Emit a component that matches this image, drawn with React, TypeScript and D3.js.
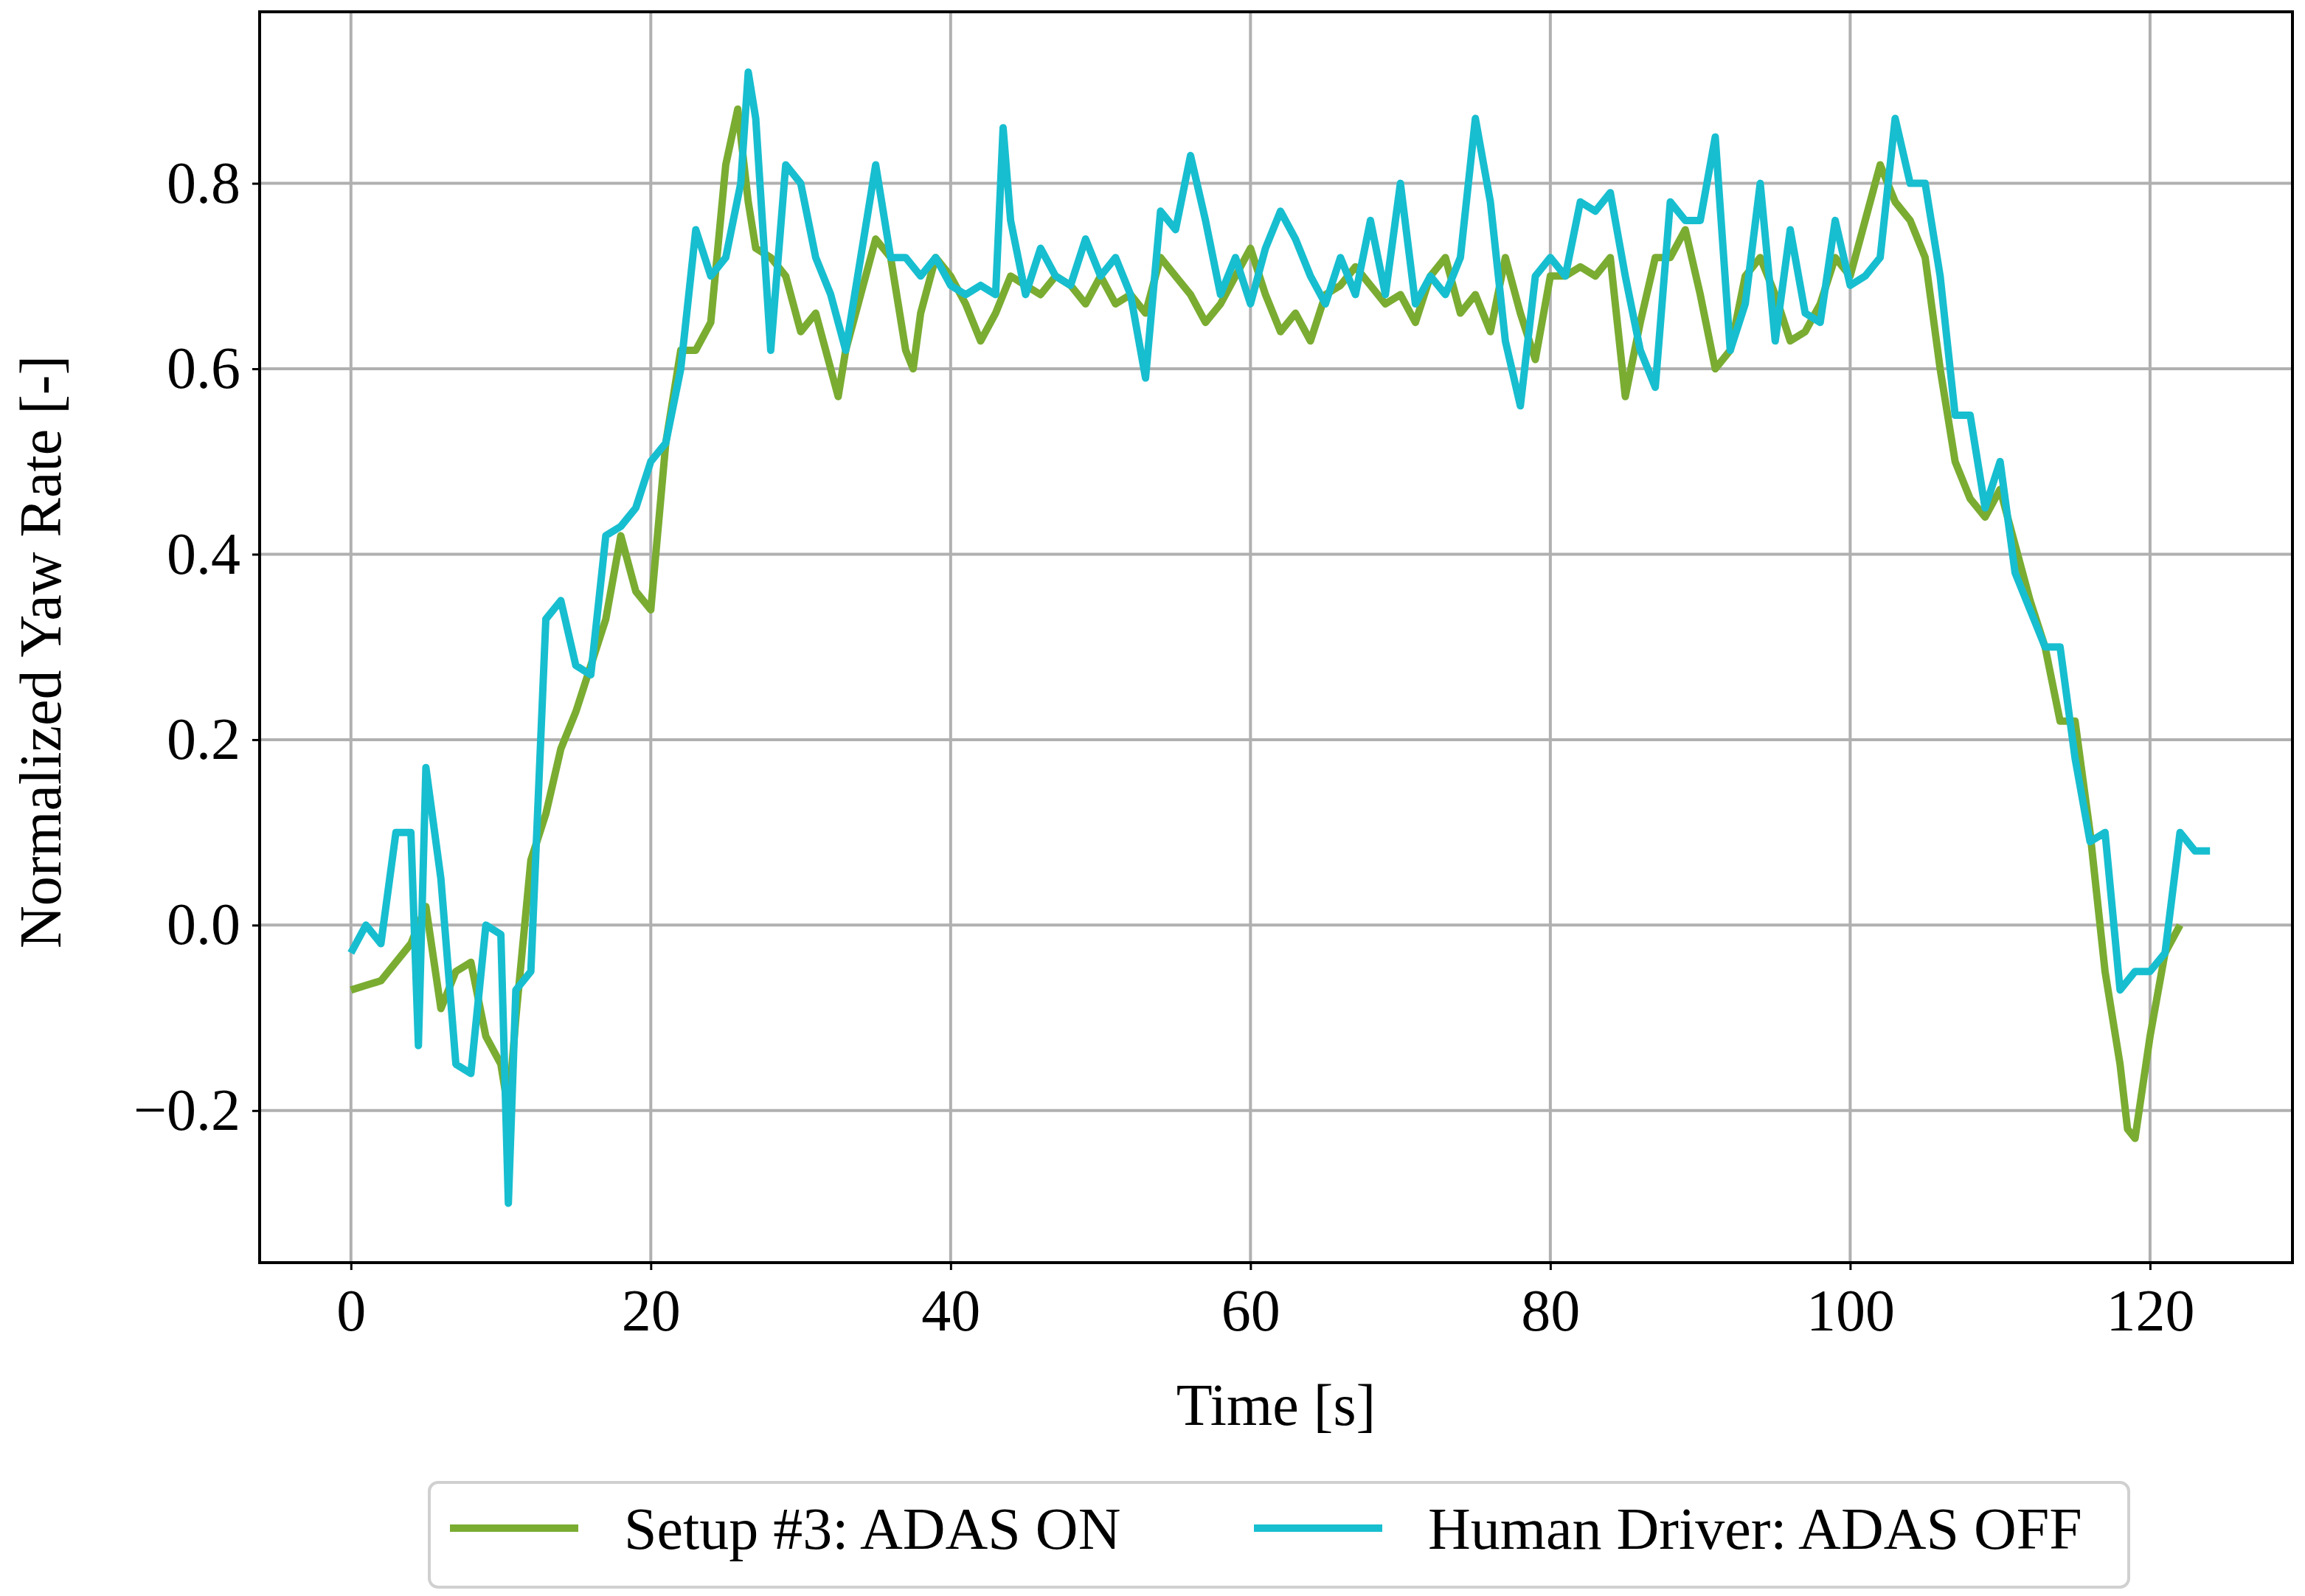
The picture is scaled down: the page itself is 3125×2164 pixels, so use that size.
import React, { useRef, useEffect } from "react";
import * as d3 from "d3";

const adasOnT = [0,1,2,3,4,5,6,7,8,9,10,10.5,11,12,13,14,15,16,17,18,19,20,21,22,23,24,25,25.8,26.5,27,28,29,30,31,32,32.5,33,34,35,36,37,37.5,38,39,40,41,42,43,44,45,46,47,48,49,50,51,52,53,54,55,56,57,58,59,60,61,62,63,64,65,66,67,68,69,70,71,72,73,74,75,76,77,78,79,80,81,82,83,84,85,86,87,88,89,90,91,92,93,94,95,96,97,98,99,100,101,102,103,104,105,106,107,108,109,110,111,112,113,114,115,116,117,118,118.5,119,120,121,122];
const adasOnV = [-0.07,-0.065,-0.06,-0.04,-0.02,0.02,-0.09,-0.05,-0.04,-0.12,-0.15,-0.2,-0.1,0.07,0.12,0.19,0.23,0.28,0.33,0.42,0.36,0.34,0.52,0.62,0.62,0.65,0.82,0.88,0.78,0.73,0.72,0.7,0.64,0.66,0.6,0.57,0.62,0.68,0.74,0.72,0.62,0.6,0.66,0.72,0.7,0.67,0.63,0.66,0.7,0.69,0.68,0.7,0.69,0.67,0.7,0.67,0.68,0.66,0.72,0.7,0.68,0.65,0.67,0.7,0.73,0.68,0.64,0.66,0.63,0.68,0.69,0.71,0.69,0.67,0.68,0.65,0.7,0.72,0.66,0.68,0.64,0.72,0.66,0.61,0.7,0.7,0.71,0.7,0.72,0.57,0.65,0.72,0.72,0.75,0.68,0.6,0.62,0.7,0.72,0.68,0.63,0.64,0.67,0.72,0.7,0.76,0.82,0.78,0.76,0.72,0.6,0.5,0.46,0.44,0.47,0.41,0.35,0.3,0.22,0.22,0.1,-0.05,-0.15,-0.22,-0.23,-0.12,-0.03,0.0];

const humanT = [0,1,2,3,4,4.5,5,6,7,8,9,10,10.5,11,12,13,14,15,16,17,18,19,20,21,22,23,24,25,26,26.5,27,28,29,30,31,32,33,34,35,36,37,38,39,40,41,42,43,43.5,44,45,46,47,48,49,50,51,52,53,54,55,56,57,58,59,60,61,62,63,64,65,66,67,68,69,70,71,72,73,74,75,76,77,78,79,80,81,82,83,84,85,86,87,88,89,90,91,92,93,94,95,96,97,98,99,100,101,102,103,104,105,106,107,108,109,110,111,112,113,114,115,116,117,118,119,120,121,122,123,124];
const humanV = [-0.03,0,-0.02,0.1,0.1,-0.13,0.17,0.05,-0.15,-0.16,0,-0.01,-0.3,-0.07,-0.05,0.33,0.35,0.28,0.27,0.42,0.43,0.45,0.5,0.52,0.6,0.75,0.7,0.72,0.8,0.92,0.87,0.62,0.82,0.8,0.72,0.68,0.62,0.72,0.82,0.72,0.72,0.7,0.72,0.69,0.68,0.69,0.68,0.86,0.76,0.68,0.73,0.7,0.69,0.74,0.7,0.72,0.68,0.59,0.77,0.75,0.83,0.76,0.68,0.72,0.67,0.73,0.77,0.74,0.7,0.67,0.72,0.68,0.76,0.68,0.8,0.67,0.7,0.68,0.72,0.87,0.78,0.63,0.56,0.7,0.72,0.7,0.78,0.77,0.79,0.7,0.62,0.58,0.78,0.76,0.76,0.85,0.62,0.67,0.8,0.63,0.75,0.66,0.65,0.76,0.69,0.7,0.72,0.87,0.8,0.8,0.7,0.55,0.55,0.45,0.5,0.38,0.34,0.3,0.3,0.18,0.09,0.1,-0.07,-0.05,-0.05,-0.03,0.1,0.08,0.08];

const xTicks = [0, 20, 40, 60, 80, 100, 120];
const yTicks = [-0.2, 0, 0.2, 0.4, 0.6, 0.8];
const seriesNames = ["Setup #3: ADAS ON", "Human Driver: ADAS OFF"];
const seriesColors = ["#7aac32", "#17becf"];

const W = 3125, H = 2164;
const L = 352, R = 3108, T = 16, B = 1712;
const FONT = "'Liberation Serif', 'DejaVu Serif', serif";

export default function App() {
  const ref = useRef<SVGSVGElement>(null);
  useEffect(() => {
    const svg = d3.select(ref.current);
    svg.selectAll("*").remove();
    const x = d3.scaleLinear().domain([-6.09, 129.5]).range([L, R]);
    const y = d3.scaleLinear().domain([-0.364, 0.985]).range([B, T]);

    svg.append("rect").attr("width", W).attr("height", H).attr("fill", "white");
    const grid = svg.append("g").attr("stroke", "#b0b0b0").attr("stroke-width", 4);
    xTicks.forEach((t) => grid.append("line").attr("x1", x(t)).attr("x2", x(t)).attr("y1", T).attr("y2", B));
    yTicks.forEach((t) => grid.append("line").attr("x1", L).attr("x2", R).attr("y1", y(t)).attr("y2", y(t)));

    const clip = svg.append("clipPath").attr("id", "c");
    clip.append("rect").attr("x", L).attr("y", T).attr("width", R - L).attr("height", B - T);
    const line = d3.line<[number, number]>().x((d) => x(d[0])).y((d) => y(d[1]));
    const data = [d3.zip(adasOnT, adasOnV), d3.zip(humanT, humanV)] as [number, number][][];
    data.forEach((d, i) =>
      svg.append("path").attr("clip-path", "url(#c)").attr("d", line(d) || "")
        .attr("fill", "none").attr("stroke", seriesColors[i]).attr("stroke-width", 10)
        .attr("stroke-linejoin", "round"));

    svg.append("rect").attr("x", L).attr("y", T).attr("width", R - L).attr("height", B - T)
      .attr("fill", "none").attr("stroke", "black").attr("stroke-width", 4);

    const xa = svg.append("g").attr("transform", `translate(0,${B})`)
      .call(d3.axisBottom(x).tickValues(xTicks).tickSize(10).tickPadding(14).tickFormat(d3.format("d")));
    const ya = svg.append("g").attr("transform", `translate(${L},0)`)
      .call(d3.axisLeft(y).tickValues(yTicks).tickSize(10).tickPadding(16).tickFormat((d) => d3.format(".1f")(d as number).replace("-", "\u2212")));
    [xa, ya].forEach((a) => {
      a.select(".domain").remove();
      a.selectAll("line").attr("stroke", "black").attr("stroke-width", 3);
      a.selectAll("text").attr("font-family", FONT).attr("font-size", 80).attr("fill", "black");
    });
    xa.selectAll("text").attr("dy", "0.85em");

    svg.append("text").attr("x", (L + R) / 2).attr("y", 1932).attr("text-anchor", "middle")
      .attr("font-family", FONT).attr("font-size", 80).text("Time [s]");
    svg.append("text").attr("transform", `translate(82,${(T + B) / 2 + 20}) rotate(-90)`).attr("text-anchor", "middle")
      .attr("font-family", FONT).attr("font-size", 80).text("Normalized Yaw Rate [-]");

    const lg = svg.append("g");
    lg.append("rect").attr("x", 582).attr("y", 2010).attr("width", 2304).attr("height", 142).attr("rx", 12)
      .attr("fill", "white").attr("stroke", "#d0d0d0").attr("stroke-width", 4);
    const lx = [610, 1700];
    seriesNames.forEach((n, i) => {
      lg.append("line").attr("x1", lx[i]).attr("x2", lx[i] + 174).attr("y1", 2072).attr("y2", 2072)
        .attr("stroke", seriesColors[i]).attr("stroke-width", 10);
      lg.append("text").attr("x", lx[i] + 236).attr("y", 2072).attr("dy", "0.35em")
        .attr("font-family", FONT).attr("font-size", 80).text(n);
    });
  }, []);
  return <svg ref={ref} width={W} height={H} style={{ position: "absolute", left: 0, top: 0 }} />;
}
